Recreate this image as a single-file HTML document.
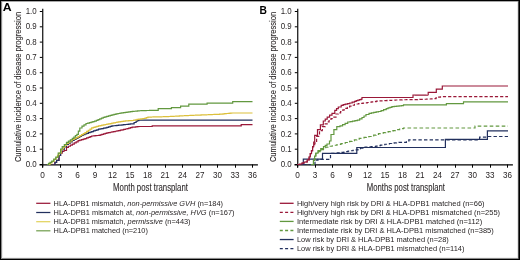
<!DOCTYPE html>
<html><head><meta charset="utf-8"><style>
html,body{margin:0;padding:0;background:#fff;width:520px;height:260px;overflow:hidden}
svg{display:block;font-family:"Liberation Sans", sans-serif;will-change:transform}
</style></head><body>
<svg width="520" height="260" viewBox="0 0 520 260">
<line x1="42.75" y1="8.8" x2="42.75" y2="167.6" stroke="#000" stroke-width="1.15"/>
<line x1="39.5" y1="164.8" x2="257.9" y2="164.8" stroke="#000" stroke-width="1.2"/>
<line x1="39.8" y1="164.5" x2="42.5" y2="164.5" stroke="#000" stroke-width="1"/>
<text x="36.7" y="167.1" font-size="8.3" text-anchor="end" textLength="11.0" lengthAdjust="spacingAndGlyphs" fill="#231f20">0.0</text>
<line x1="39.8" y1="149.2" x2="42.5" y2="149.2" stroke="#000" stroke-width="1"/>
<text x="36.7" y="151.8" font-size="8.3" text-anchor="end" textLength="11.0" lengthAdjust="spacingAndGlyphs" fill="#231f20">0.1</text>
<line x1="39.8" y1="133.9" x2="42.5" y2="133.9" stroke="#000" stroke-width="1"/>
<text x="36.7" y="136.5" font-size="8.3" text-anchor="end" textLength="11.0" lengthAdjust="spacingAndGlyphs" fill="#231f20">0.2</text>
<line x1="39.8" y1="118.6" x2="42.5" y2="118.6" stroke="#000" stroke-width="1"/>
<text x="36.7" y="121.2" font-size="8.3" text-anchor="end" textLength="11.0" lengthAdjust="spacingAndGlyphs" fill="#231f20">0.3</text>
<line x1="39.8" y1="103.3" x2="42.5" y2="103.3" stroke="#000" stroke-width="1"/>
<text x="36.7" y="105.9" font-size="8.3" text-anchor="end" textLength="11.0" lengthAdjust="spacingAndGlyphs" fill="#231f20">0.4</text>
<line x1="39.8" y1="88" x2="42.5" y2="88" stroke="#000" stroke-width="1"/>
<text x="36.7" y="90.6" font-size="8.3" text-anchor="end" textLength="11.0" lengthAdjust="spacingAndGlyphs" fill="#231f20">0.5</text>
<line x1="39.8" y1="72.7" x2="42.5" y2="72.7" stroke="#000" stroke-width="1"/>
<text x="36.7" y="75.3" font-size="8.3" text-anchor="end" textLength="11.0" lengthAdjust="spacingAndGlyphs" fill="#231f20">0.6</text>
<line x1="39.8" y1="57.4" x2="42.5" y2="57.4" stroke="#000" stroke-width="1"/>
<text x="36.7" y="60" font-size="8.3" text-anchor="end" textLength="11.0" lengthAdjust="spacingAndGlyphs" fill="#231f20">0.7</text>
<line x1="39.8" y1="42.1" x2="42.5" y2="42.1" stroke="#000" stroke-width="1"/>
<text x="36.7" y="44.7" font-size="8.3" text-anchor="end" textLength="11.0" lengthAdjust="spacingAndGlyphs" fill="#231f20">0.8</text>
<line x1="39.8" y1="26.8" x2="42.5" y2="26.8" stroke="#000" stroke-width="1"/>
<text x="36.7" y="29.4" font-size="8.3" text-anchor="end" textLength="11.0" lengthAdjust="spacingAndGlyphs" fill="#231f20">0.9</text>
<line x1="39.8" y1="11.5" x2="42.5" y2="11.5" stroke="#000" stroke-width="1"/>
<text x="36.7" y="14.1" font-size="8.3" text-anchor="end" textLength="11.0" lengthAdjust="spacingAndGlyphs" fill="#231f20">1.0</text>
<line x1="42.5" y1="164.5" x2="42.5" y2="167.7" stroke="#000" stroke-width="1"/>
<text x="42.5" y="177.7" font-size="8.8" text-anchor="middle" textLength="4.6" lengthAdjust="spacingAndGlyphs" fill="#231f20">0</text>
<line x1="60.5" y1="164.5" x2="60.5" y2="167.7" stroke="#000" stroke-width="1"/>
<text x="60" y="177.7" font-size="8.8" text-anchor="middle" textLength="4.6" lengthAdjust="spacingAndGlyphs" fill="#231f20">3</text>
<line x1="77.5" y1="164.5" x2="77.5" y2="167.7" stroke="#000" stroke-width="1"/>
<text x="77.5" y="177.7" font-size="8.8" text-anchor="middle" textLength="4.6" lengthAdjust="spacingAndGlyphs" fill="#231f20">6</text>
<line x1="95.5" y1="164.5" x2="95.5" y2="167.7" stroke="#000" stroke-width="1"/>
<text x="95" y="177.7" font-size="8.8" text-anchor="middle" textLength="4.6" lengthAdjust="spacingAndGlyphs" fill="#231f20">9</text>
<line x1="112.5" y1="164.5" x2="112.5" y2="167.7" stroke="#000" stroke-width="1"/>
<text x="112.5" y="177.7" font-size="8.8" text-anchor="middle" textLength="9.0" lengthAdjust="spacingAndGlyphs" fill="#231f20">12</text>
<line x1="130.5" y1="164.5" x2="130.5" y2="167.7" stroke="#000" stroke-width="1"/>
<text x="130" y="177.7" font-size="8.8" text-anchor="middle" textLength="9.0" lengthAdjust="spacingAndGlyphs" fill="#231f20">15</text>
<line x1="147.5" y1="164.5" x2="147.5" y2="167.7" stroke="#000" stroke-width="1"/>
<text x="147.5" y="177.7" font-size="8.8" text-anchor="middle" textLength="9.0" lengthAdjust="spacingAndGlyphs" fill="#231f20">18</text>
<line x1="165.5" y1="164.5" x2="165.5" y2="167.7" stroke="#000" stroke-width="1"/>
<text x="165" y="177.7" font-size="8.8" text-anchor="middle" textLength="9.0" lengthAdjust="spacingAndGlyphs" fill="#231f20">21</text>
<line x1="182.5" y1="164.5" x2="182.5" y2="167.7" stroke="#000" stroke-width="1"/>
<text x="182.5" y="177.7" font-size="8.8" text-anchor="middle" textLength="9.0" lengthAdjust="spacingAndGlyphs" fill="#231f20">24</text>
<line x1="200.5" y1="164.5" x2="200.5" y2="167.7" stroke="#000" stroke-width="1"/>
<text x="200" y="177.7" font-size="8.8" text-anchor="middle" textLength="9.0" lengthAdjust="spacingAndGlyphs" fill="#231f20">27</text>
<line x1="217.5" y1="164.5" x2="217.5" y2="167.7" stroke="#000" stroke-width="1"/>
<text x="217.5" y="177.7" font-size="8.8" text-anchor="middle" textLength="9.0" lengthAdjust="spacingAndGlyphs" fill="#231f20">30</text>
<line x1="235.5" y1="164.5" x2="235.5" y2="167.7" stroke="#000" stroke-width="1"/>
<text x="235" y="177.7" font-size="8.8" text-anchor="middle" textLength="9.0" lengthAdjust="spacingAndGlyphs" fill="#231f20">33</text>
<line x1="252.5" y1="164.5" x2="252.5" y2="167.7" stroke="#000" stroke-width="1"/>
<text x="252.5" y="177.7" font-size="8.8" text-anchor="middle" textLength="9.0" lengthAdjust="spacingAndGlyphs" fill="#231f20">36</text>
<text transform="translate(20.6,87.0) rotate(-90)" x="0" y="0" font-size="9.6" text-anchor="middle" textLength="150.2" lengthAdjust="spacingAndGlyphs" fill="#231f20" stroke="#231f20" stroke-width="0.1">Cumulative incidence of disease progression</text>
<text x="150.5" y="190.9" font-size="10.2" text-anchor="middle" textLength="74.8" lengthAdjust="spacingAndGlyphs" fill="#231f20" stroke="#231f20" stroke-width="0.08">Month post transplant</text>
<text x="2.8" y="10.9" font-size="10.8" font-weight="bold" textLength="8.9" lengthAdjust="spacingAndGlyphs" fill="#000">A</text>
<polyline points="53,164.5 54.8,164.5 54.8,162.45 56.6,162.45 56.6,160.4 59,160.4 59,155.5 60.6,155.5 60.6,153.1 62.2,153.1 62.2,151.5 64,151.5 64,150.5 66.5,150.5 66.5,147.3 68.43,147.3 68.43,146.23 70.37,146.23 70.37,145.17 72.3,145.17 72.3,144.1 74.23,144.1 74.23,142.97 76.17,142.97 76.17,141.83 78.1,141.83 78.1,140.7 79.82,140.7 79.82,140.17 81.55,140.17 81.55,139.65 83.28,139.65 83.28,139.12 85,139.12 85,138.6 86.67,138.6 86.67,137.95 88.35,137.95 88.35,137.3 90.03,137.3 90.03,136.65 91.7,136.65 91.7,136 93.4,136 93.4,135.82 95.1,135.82 95.1,135.65 96.8,135.65 96.8,135.48 98.5,135.48 98.5,135.3 100.17,135.3 100.17,134.8 101.85,134.8 101.85,134.3 103.53,134.3 103.53,133.8 105.2,133.8 105.2,133.3 106.88,133.3 106.88,132.95 108.55,132.95 108.55,132.6 110.23,132.6 110.23,132.25 111.9,132.25 111.9,131.9 113.58,131.9 113.58,131.57 115.25,131.57 115.25,131.25 116.92,131.25 116.92,130.93 118.6,130.93 118.6,130.6 120.3,130.6 120.3,130.2 122,130.2 122,129.8 123.7,129.8 123.7,129.4 125.4,129.4 125.4,129 127.08,129 127.08,128.55 128.75,128.55 128.75,128.1 130.43,128.1 130.43,127.65 132.1,127.65 132.1,127.2 133.78,127.2 133.78,127.03 135.45,127.03 135.45,126.85 137.12,126.85 137.12,126.67 138.8,126.67 138.8,126.5 140.6,126.5 140.6,126.5 142.4,126.5 142.4,126.5 144.2,126.5 144.2,126.5 146,126.5 146,126.5 147.8,126.5 147.8,126.5 149.6,126.5 149.6,126.5 152.2,126.5 152.2,125.8 154.02,125.8 154.02,125.8 155.83,125.8 155.83,125.8 157.65,125.8 157.65,125.8 159.47,125.8 159.47,125.8 161.28,125.8 161.28,125.8 163.1,125.8 163.1,125.8 164.91,125.8 164.91,125.8 166.73,125.8 166.73,125.8 168.55,125.8 168.55,125.8 170.36,125.8 170.36,125.8 172.18,125.8 172.18,125.8 174,125.8 174,125.8 175.81,125.8 175.81,125.8 177.63,125.8 177.63,125.8 179.44,125.8 179.44,125.8 181.26,125.8 181.26,125.8 183.08,125.8 183.08,125.8 184.89,125.8 184.89,125.8 186.71,125.8 186.71,125.8 188.53,125.8 188.53,125.8 190.34,125.8 190.34,125.8 192.16,125.8 192.16,125.8 193.98,125.8 193.98,125.8 195.79,125.8 195.79,125.8 197.61,125.8 197.61,125.8 199.42,125.8 199.42,125.8 201.24,125.8 201.24,125.8 203.06,125.8 203.06,125.8 204.87,125.8 204.87,125.8 206.69,125.8 206.69,125.8 208.51,125.8 208.51,125.8 210.32,125.8 210.32,125.8 212.14,125.8 212.14,125.8 213.96,125.8 213.96,125.8 215.77,125.8 215.77,125.8 217.59,125.8 217.59,125.8 219.4,125.8 219.4,125.8 221.22,125.8 221.22,125.8 223.04,125.8 223.04,125.8 224.85,125.8 224.85,125.8 226.67,125.8 226.67,125.8 228.49,125.8 228.49,125.8 230.3,125.8 230.3,125.8 232.12,125.8 232.12,125.8 233.93,125.8 233.93,125.8 235.75,125.8 235.75,125.8 237.57,125.8 237.57,125.8 239.38,125.8 239.38,125.8 241.2,125.8 241.2,125.8 241.2,125.8 241.2,124.6 243.08,124.6 243.08,124.6 244.97,124.6 244.97,124.6 246.85,124.6 246.85,124.6 248.73,124.6 248.73,124.6 250.62,124.6 250.62,124.6 252.5,124.6 252.5,124.6" fill="none" stroke="#9a1838" stroke-width="1.2" stroke-linejoin="miter"/>
<polyline points="53.5,164.5 55.05,164.5 55.05,162.45 56.6,162.45 56.6,160.4 59,160.4 59,155.5 60.6,155.5 60.6,152 62,152 62,149.5 64.25,149.5 64.25,147 66.5,147 66.5,144.5 68.43,144.5 68.43,143.17 70.37,143.17 70.37,141.83 72.3,141.83 72.3,140.5 74.2,140.5 74.2,139.5 76.1,139.5 76.1,138.5 78,138.5 78,137.5 79.75,137.5 79.75,136.5 81.5,136.5 81.5,135.5 83.25,135.5 83.25,134.7 85,134.7 85,133.9 86.69,133.9 86.69,133.31 88.38,133.31 88.38,132.72 90.06,132.72 90.06,132.14 91.75,132.14 91.75,131.55 93.44,131.55 93.44,130.96 95.12,130.96 95.12,130.38 96.81,130.38 96.81,129.79 98.5,129.79 98.5,129.2 100.17,129.2 100.17,128.88 101.85,128.88 101.85,128.55 103.53,128.55 103.53,128.22 105.2,128.22 105.2,127.9 106.88,127.9 106.88,127.4 108.55,127.4 108.55,126.9 110.23,126.9 110.23,126.4 111.9,126.4 111.9,125.9 113.58,125.9 113.58,125.73 115.25,125.73 115.25,125.55 116.92,125.55 116.92,125.38 118.6,125.38 118.6,125.2 120.3,125.2 120.3,125.03 122,125.03 122,124.85 123.7,124.85 123.7,124.67 125.4,124.67 125.4,124.5 127.08,124.5 127.08,124.33 128.75,124.33 128.75,124.15 130.43,124.15 130.43,123.97 132.1,123.97 132.1,123.8 134.1,123.8 134.1,122.5 136.1,122.5 136.1,121.2 137.45,121.2 137.45,120.65 138.8,120.65 138.8,120.1 140.6,120.1 140.6,120.1 142.41,120.1 142.41,120.1 144.21,120.1 144.21,120.1 146.02,120.1 146.02,120.1 147.82,120.1 147.82,120.1 149.63,120.1 149.63,120.1 151.43,120.1 151.43,120.1 153.24,120.1 153.24,120.1 155.04,120.1 155.04,120.1 156.85,120.1 156.85,120.1 158.65,120.1 158.65,120.1 160.46,120.1 160.46,120.1 162.26,120.1 162.26,120.1 164.07,120.1 164.07,120.1 165.87,120.1 165.87,120.1 167.68,120.1 167.68,120.1 169.48,120.1 169.48,120.1 171.29,120.1 171.29,120.1 173.09,120.1 173.09,120.1 174.9,120.1 174.9,120.1 176.7,120.1 176.7,120.1 178.5,120.1 178.5,120.1 180.31,120.1 180.31,120.1 182.11,120.1 182.11,120.1 183.92,120.1 183.92,120.1 185.72,120.1 185.72,120.1 187.53,120.1 187.53,120.1 189.33,120.1 189.33,120.1 191.14,120.1 191.14,120.1 192.94,120.1 192.94,120.1 194.75,120.1 194.75,120.1 196.55,120.1 196.55,120.1 198.36,120.1 198.36,120.1 200.16,120.1 200.16,120.1 201.97,120.1 201.97,120.1 203.77,120.1 203.77,120.1 205.58,120.1 205.58,120.1 207.38,120.1 207.38,120.1 209.19,120.1 209.19,120.1 210.99,120.1 210.99,120.1 212.8,120.1 212.8,120.1 214.6,120.1 214.6,120.1 216.4,120.1 216.4,120.1 218.21,120.1 218.21,120.1 220.01,120.1 220.01,120.1 221.82,120.1 221.82,120.1 223.62,120.1 223.62,120.1 225.43,120.1 225.43,120.1 227.23,120.1 227.23,120.1 229.04,120.1 229.04,120.1 230.84,120.1 230.84,120.1 232.65,120.1 232.65,120.1 234.45,120.1 234.45,120.1 236.26,120.1 236.26,120.1 238.06,120.1 238.06,120.1 239.87,120.1 239.87,120.1 241.67,120.1 241.67,120.1 243.48,120.1 243.48,120.1 245.28,120.1 245.28,120.1 247.09,120.1 247.09,120.1 248.89,120.1 248.89,120.1 250.7,120.1 250.7,120.1 252.5,120.1 252.5,120.1" fill="none" stroke="#22305e" stroke-width="1.2" stroke-linejoin="miter"/>
<polyline points="48,164.5 50,164.5 50,163 52,163 52,161.5 54,161.5 54,159.5 56,159.5 56,157.5 57.5,157.5 57.5,155.25 59,155.25 59,153 61.2,153 61.2,149.5 62.97,149.5 62.97,147.5 64.73,147.5 64.73,145.5 66.5,145.5 66.5,143.5 68.43,143.5 68.43,142.17 70.37,142.17 70.37,140.83 72.3,140.83 72.3,139.5 74.23,139.5 74.23,138.57 76.17,138.57 76.17,137.63 78.1,137.63 78.1,136.7 79.82,136.7 79.82,135.67 81.55,135.67 81.55,134.65 83.28,134.65 83.28,133.62 85,133.62 85,132.6 86.67,132.6 86.67,131.43 88.35,131.43 88.35,130.25 90.03,130.25 90.03,129.07 91.7,129.07 91.7,127.9 93.4,127.9 93.4,127.4 95.1,127.4 95.1,126.9 96.8,126.9 96.8,126.4 98.5,126.4 98.5,125.9 100.17,125.9 100.17,125.55 101.85,125.55 101.85,125.2 103.53,125.2 103.53,124.85 105.2,124.85 105.2,124.5 106.88,124.5 106.88,124.17 108.55,124.17 108.55,123.85 110.23,123.85 110.23,123.53 111.9,123.53 111.9,123.2 113.58,123.2 113.58,122.85 115.25,122.85 115.25,122.5 116.92,122.5 116.92,122.15 118.6,122.15 118.6,121.8 120.3,121.8 120.3,121.58 122,121.58 122,121.35 123.7,121.35 123.7,121.12 125.4,121.12 125.4,120.9 127.08,120.9 127.08,120.8 128.75,120.8 128.75,120.7 130.43,120.7 130.43,120.6 132.1,120.6 132.1,120.5 133.78,120.5 133.78,120.15 135.45,120.15 135.45,119.8 137.12,119.8 137.12,119.45 138.8,119.45 138.8,119.1 140.87,119.1 140.87,118.8 142.93,118.8 142.93,118.5 145,118.5 145,118.2 146.45,118.2 146.45,117.65 147.9,117.65 147.9,117.1 149.63,117.1 149.63,117.05 151.35,117.05 151.35,117.01 153.08,117.01 153.08,116.96 154.81,116.96 154.81,116.92 156.54,116.92 156.54,116.87 158.26,116.87 158.26,116.83 159.99,116.83 159.99,116.78 161.72,116.78 161.72,116.74 163.45,116.74 163.45,116.69 165.17,116.69 165.17,116.65 166.9,116.65 166.9,116.6 168.68,116.6 168.68,116.51 170.45,116.51 170.45,116.42 172.23,116.42 172.23,116.32 174.01,116.32 174.01,116.23 175.78,116.23 175.78,116.14 177.56,116.14 177.56,116.05 179.34,116.05 179.34,115.95 181.12,115.95 181.12,115.86 182.89,115.86 182.89,115.77 184.67,115.77 184.67,115.68 186.45,115.68 186.45,115.58 188.22,115.58 188.22,115.49 190,115.49 190,115.4 191.85,115.4 191.85,115.33 193.7,115.33 193.7,115.25 195.55,115.25 195.55,115.18 197.4,115.18 197.4,115.1 199.25,115.1 199.25,115.03 201.1,115.03 201.1,114.95 202.95,114.95 202.95,114.88 204.8,114.88 204.8,114.8 206.65,114.8 206.65,114.73 208.5,114.73 208.5,114.65 210.35,114.65 210.35,114.58 212.2,114.58 212.2,114.5 214.05,114.5 214.05,114.42 215.9,114.42 215.9,114.35 217.75,114.35 217.75,114.28 219.6,114.28 219.6,114.2 221.33,114.2 221.33,114.03 223.06,114.03 223.06,113.86 224.79,113.86 224.79,113.69 226.51,113.69 226.51,113.51 228.24,113.51 228.24,113.34 229.97,113.34 229.97,113.17 231.7,113.17 231.7,113 233.43,113 233.43,113 235.17,113 235.17,113 236.9,113 236.9,113 238.63,113 238.63,113 240.37,113 240.37,113 242.1,113 242.1,113 243.83,113 243.83,113 245.57,113 245.57,113 247.3,113 247.3,113 249.03,113 249.03,113 250.77,113 250.77,113 252.5,113 252.5,113" fill="none" stroke="#dcc03c" stroke-width="1.2" stroke-linejoin="miter"/>
<polyline points="46.9,164.5 48.5,164.5 48.5,163.4 50.1,163.4 50.1,162.3 51.7,162.3 51.7,161.2 53.75,161.2 53.75,159.15 55.8,159.15 55.8,157.1 58.2,157.1 58.2,153.1 60.6,153.1 60.6,149 62.2,149 62.2,146.6 64.35,146.6 64.35,144.5 66.5,144.5 66.5,142.4 68.43,142.4 68.43,141.07 70.37,141.07 70.37,139.73 72.3,139.73 72.3,138.4 73.83,138.4 73.83,137.03 75.37,137.03 75.37,135.67 76.9,135.67 76.9,134.3 78.35,134.3 78.35,131.15 79.8,131.15 79.8,128 82,128 82,126.2 84,126.2 84,124.85 86,124.85 86,123.5 87.72,123.5 87.72,123.04 89.44,123.04 89.44,122.58 91.16,122.58 91.16,122.12 92.88,122.12 92.88,121.66 94.6,121.66 94.6,121.2 96.32,121.2 96.32,120.42 98.04,120.42 98.04,119.64 99.76,119.64 99.76,118.86 101.48,118.86 101.48,118.08 103.2,118.08 103.2,117.3 104.96,117.3 104.96,116.8 106.72,116.8 106.72,116.3 108.48,116.3 108.48,115.8 110.24,115.8 110.24,115.3 112,115.3 112,114.8 114,114.8 114,114.38 116,114.38 116,113.95 118,113.95 118,113.52 120,113.52 120,113.1 121.76,113.1 121.76,112.86 123.51,112.86 123.51,112.61 125.27,112.61 125.27,112.37 127.03,112.37 127.03,112.13 128.79,112.13 128.79,111.89 130.54,111.89 130.54,111.64 132.3,111.64 132.3,111.4 134.04,111.4 134.04,111.24 135.78,111.24 135.78,111.08 137.52,111.08 137.52,110.92 139.26,110.92 139.26,110.76 141,110.76 141,110.6 142.72,110.6 142.72,110.57 144.44,110.57 144.44,110.54 146.16,110.54 146.16,110.51 147.88,110.51 147.88,110.48 149.6,110.48 149.6,110.45 151.32,110.45 151.32,110.42 153.04,110.42 153.04,110.39 154.76,110.39 154.76,110.36 156.48,110.36 156.48,110.33 158.2,110.33 158.2,110.3 158.2,110.3 158.2,108.7 160.09,108.7 160.09,108.7 161.97,108.7 161.97,108.7 163.86,108.7 163.86,108.7 165.74,108.7 165.74,108.7 167.63,108.7 167.63,108.7 169.51,108.7 169.51,108.7 171.4,108.7 171.4,108.7 171.4,108.7 171.4,107.6 173.24,107.6 173.24,107.6 175.08,107.6 175.08,107.6 176.92,107.6 176.92,107.6 178.76,107.6 178.76,107.6 180.6,107.6 180.6,107.6 180.6,107.6 180.6,106.2 182.24,106.2 182.24,106.2 183.88,106.2 183.88,106.2 185.52,106.2 185.52,106.2 187.16,106.2 187.16,106.2 188.8,106.2 188.8,106.2 188.8,106.2 188.8,104.2 190.63,104.2 190.63,104.2 192.46,104.2 192.46,104.2 194.29,104.2 194.29,104.2 196.12,104.2 196.12,104.2 197.95,104.2 197.95,104.2 199.78,104.2 199.78,104.2 201.61,104.2 201.61,104.2 203.44,104.2 203.44,104.2 205.27,104.2 205.27,104.2 207.1,104.2 207.1,104.2 207.1,104.2 207.1,103.1 208.93,103.1 208.93,103.1 210.76,103.1 210.76,103.1 212.59,103.1 212.59,103.1 214.41,103.1 214.41,103.1 216.24,103.1 216.24,103.1 218.07,103.1 218.07,103.1 219.9,103.1 219.9,103.1 221.73,103.1 221.73,103.1 223.56,103.1 223.56,103.1 225.39,103.1 225.39,103.1 227.21,103.1 227.21,103.1 229.04,103.1 229.04,103.1 230.87,103.1 230.87,103.1 232.7,103.1 232.7,103.1 232.7,103.1 232.7,101.6 234.5,101.6 234.5,101.6 236.3,101.6 236.3,101.6 238.1,101.6 238.1,101.6 239.9,101.6 239.9,101.6 241.7,101.6 241.7,101.6 243.5,101.6 243.5,101.6 245.3,101.6 245.3,101.6 247.1,101.6 247.1,101.6 248.9,101.6 248.9,101.6 250.7,101.6 250.7,101.6 252.5,101.6 252.5,101.6" fill="none" stroke="#62983f" stroke-width="1.2" stroke-linejoin="miter"/>
<line x1="36.2" y1="203.3" x2="50.4" y2="203.3" stroke="#9a1838" stroke-width="1.25"/>
<text x="53.6" y="205.6" font-size="7.8" textLength="169.4" lengthAdjust="spacingAndGlyphs" fill="#231f20">HLA-DPB1 mismatch, <tspan font-style="italic">non-permissive GVH</tspan> (n=184)</text>
<line x1="36.2" y1="212.5" x2="50.4" y2="212.5" stroke="#22305e" stroke-width="1.25"/>
<text x="53.6" y="214.8" font-size="7.8" textLength="180.9" lengthAdjust="spacingAndGlyphs" fill="#231f20">HLA-DPB1 mismatch at, <tspan font-style="italic">non-permissive, HVG</tspan> (n=167)</text>
<line x1="36.2" y1="221.7" x2="50.4" y2="221.7" stroke="#e2d35e" stroke-width="1.25"/>
<text x="53.6" y="224" font-size="7.8" textLength="137.0" lengthAdjust="spacingAndGlyphs" fill="#231f20">HLA-DPB1 mismatch, <tspan font-style="italic">permissive</tspan> (n=443)</text>
<line x1="36.2" y1="230.8" x2="50.4" y2="230.8" stroke="#74a052" stroke-width="1.25"/>
<text x="53.6" y="233.1" font-size="7.8" textLength="94.3" lengthAdjust="spacingAndGlyphs" fill="#231f20">HLA-DPB1 matched (n=210)</text>
<line x1="297.75" y1="8.8" x2="297.75" y2="167.6" stroke="#000" stroke-width="1.15"/>
<line x1="294.5" y1="164.8" x2="512.9" y2="164.8" stroke="#000" stroke-width="1.2"/>
<line x1="294.8" y1="164.5" x2="297.5" y2="164.5" stroke="#000" stroke-width="1"/>
<text x="291.7" y="167.1" font-size="8.3" text-anchor="end" textLength="11.0" lengthAdjust="spacingAndGlyphs" fill="#231f20">0.0</text>
<line x1="294.8" y1="149.2" x2="297.5" y2="149.2" stroke="#000" stroke-width="1"/>
<text x="291.7" y="151.8" font-size="8.3" text-anchor="end" textLength="11.0" lengthAdjust="spacingAndGlyphs" fill="#231f20">0.1</text>
<line x1="294.8" y1="133.9" x2="297.5" y2="133.9" stroke="#000" stroke-width="1"/>
<text x="291.7" y="136.5" font-size="8.3" text-anchor="end" textLength="11.0" lengthAdjust="spacingAndGlyphs" fill="#231f20">0.2</text>
<line x1="294.8" y1="118.6" x2="297.5" y2="118.6" stroke="#000" stroke-width="1"/>
<text x="291.7" y="121.2" font-size="8.3" text-anchor="end" textLength="11.0" lengthAdjust="spacingAndGlyphs" fill="#231f20">0.3</text>
<line x1="294.8" y1="103.3" x2="297.5" y2="103.3" stroke="#000" stroke-width="1"/>
<text x="291.7" y="105.9" font-size="8.3" text-anchor="end" textLength="11.0" lengthAdjust="spacingAndGlyphs" fill="#231f20">0.4</text>
<line x1="294.8" y1="88" x2="297.5" y2="88" stroke="#000" stroke-width="1"/>
<text x="291.7" y="90.6" font-size="8.3" text-anchor="end" textLength="11.0" lengthAdjust="spacingAndGlyphs" fill="#231f20">0.5</text>
<line x1="294.8" y1="72.7" x2="297.5" y2="72.7" stroke="#000" stroke-width="1"/>
<text x="291.7" y="75.3" font-size="8.3" text-anchor="end" textLength="11.0" lengthAdjust="spacingAndGlyphs" fill="#231f20">0.6</text>
<line x1="294.8" y1="57.4" x2="297.5" y2="57.4" stroke="#000" stroke-width="1"/>
<text x="291.7" y="60" font-size="8.3" text-anchor="end" textLength="11.0" lengthAdjust="spacingAndGlyphs" fill="#231f20">0.7</text>
<line x1="294.8" y1="42.1" x2="297.5" y2="42.1" stroke="#000" stroke-width="1"/>
<text x="291.7" y="44.7" font-size="8.3" text-anchor="end" textLength="11.0" lengthAdjust="spacingAndGlyphs" fill="#231f20">0.8</text>
<line x1="294.8" y1="26.8" x2="297.5" y2="26.8" stroke="#000" stroke-width="1"/>
<text x="291.7" y="29.4" font-size="8.3" text-anchor="end" textLength="11.0" lengthAdjust="spacingAndGlyphs" fill="#231f20">0.9</text>
<line x1="294.8" y1="11.5" x2="297.5" y2="11.5" stroke="#000" stroke-width="1"/>
<text x="291.7" y="14.1" font-size="8.3" text-anchor="end" textLength="11.0" lengthAdjust="spacingAndGlyphs" fill="#231f20">1.0</text>
<line x1="297.5" y1="164.5" x2="297.5" y2="167.7" stroke="#000" stroke-width="1"/>
<text x="297.5" y="177.7" font-size="8.8" text-anchor="middle" textLength="4.6" lengthAdjust="spacingAndGlyphs" fill="#231f20">0</text>
<line x1="315.5" y1="164.5" x2="315.5" y2="167.7" stroke="#000" stroke-width="1"/>
<text x="315" y="177.7" font-size="8.8" text-anchor="middle" textLength="4.6" lengthAdjust="spacingAndGlyphs" fill="#231f20">3</text>
<line x1="332.5" y1="164.5" x2="332.5" y2="167.7" stroke="#000" stroke-width="1"/>
<text x="332.5" y="177.7" font-size="8.8" text-anchor="middle" textLength="4.6" lengthAdjust="spacingAndGlyphs" fill="#231f20">6</text>
<line x1="350.5" y1="164.5" x2="350.5" y2="167.7" stroke="#000" stroke-width="1"/>
<text x="350" y="177.7" font-size="8.8" text-anchor="middle" textLength="4.6" lengthAdjust="spacingAndGlyphs" fill="#231f20">9</text>
<line x1="367.5" y1="164.5" x2="367.5" y2="167.7" stroke="#000" stroke-width="1"/>
<text x="367.5" y="177.7" font-size="8.8" text-anchor="middle" textLength="9.0" lengthAdjust="spacingAndGlyphs" fill="#231f20">12</text>
<line x1="385.5" y1="164.5" x2="385.5" y2="167.7" stroke="#000" stroke-width="1"/>
<text x="385" y="177.7" font-size="8.8" text-anchor="middle" textLength="9.0" lengthAdjust="spacingAndGlyphs" fill="#231f20">15</text>
<line x1="402.5" y1="164.5" x2="402.5" y2="167.7" stroke="#000" stroke-width="1"/>
<text x="402.5" y="177.7" font-size="8.8" text-anchor="middle" textLength="9.0" lengthAdjust="spacingAndGlyphs" fill="#231f20">18</text>
<line x1="420.5" y1="164.5" x2="420.5" y2="167.7" stroke="#000" stroke-width="1"/>
<text x="420" y="177.7" font-size="8.8" text-anchor="middle" textLength="9.0" lengthAdjust="spacingAndGlyphs" fill="#231f20">21</text>
<line x1="437.5" y1="164.5" x2="437.5" y2="167.7" stroke="#000" stroke-width="1"/>
<text x="437.5" y="177.7" font-size="8.8" text-anchor="middle" textLength="9.0" lengthAdjust="spacingAndGlyphs" fill="#231f20">24</text>
<line x1="455.5" y1="164.5" x2="455.5" y2="167.7" stroke="#000" stroke-width="1"/>
<text x="455" y="177.7" font-size="8.8" text-anchor="middle" textLength="9.0" lengthAdjust="spacingAndGlyphs" fill="#231f20">27</text>
<line x1="472.5" y1="164.5" x2="472.5" y2="167.7" stroke="#000" stroke-width="1"/>
<text x="472.5" y="177.7" font-size="8.8" text-anchor="middle" textLength="9.0" lengthAdjust="spacingAndGlyphs" fill="#231f20">30</text>
<line x1="490.5" y1="164.5" x2="490.5" y2="167.7" stroke="#000" stroke-width="1"/>
<text x="490" y="177.7" font-size="8.8" text-anchor="middle" textLength="9.0" lengthAdjust="spacingAndGlyphs" fill="#231f20">33</text>
<line x1="507.5" y1="164.5" x2="507.5" y2="167.7" stroke="#000" stroke-width="1"/>
<text x="507.5" y="177.7" font-size="8.8" text-anchor="middle" textLength="9.0" lengthAdjust="spacingAndGlyphs" fill="#231f20">36</text>
<text transform="translate(275.6,87.0) rotate(-90)" x="0" y="0" font-size="9.6" text-anchor="middle" textLength="150.2" lengthAdjust="spacingAndGlyphs" fill="#231f20" stroke="#231f20" stroke-width="0.1">Cumulative incidence of disease progression</text>
<text x="405.9" y="190.9" font-size="10.2" text-anchor="middle" textLength="78.2" lengthAdjust="spacingAndGlyphs" fill="#231f20" stroke="#231f20" stroke-width="0.08">Months post transplant</text>
<text x="259.4" y="13.8" font-size="10.8" font-weight="bold" textLength="7.4" lengthAdjust="spacingAndGlyphs" fill="#000">B</text>
<polyline points="297.5,164.5 303.3,164.5 303.3,164.5 303.3,164.5 303.3,159.2 322.5,159.2 322.5,159.2 322.5,159.2 322.5,153.3 356.8,153.3 356.8,153.3 356.8,153.3 356.8,147.5 445.4,147.5 445.4,147.5 445.4,147.5 445.4,139.3 487.4,139.3 487.4,139.3 487.4,139.3 487.4,130.9 508,130.9 508,130.9" fill="none" stroke="#22305e" stroke-width="1.2" stroke-linejoin="miter"/>
<polyline points="297.5,164.5 299.69,164.5 299.69,164.5 301.88,164.5 301.88,164.5 304.06,164.5 304.06,164.5 306.25,164.5 306.25,164.5 308.44,164.5 308.44,164.5 310.62,164.5 310.62,164.5 312.81,164.5 312.81,164.5 315,164.5 315,164.5 315,164.5 315,160.2 318,160.2 318,159.4 320.08,159.4 320.08,159.4 322.17,159.4 322.17,159.4 324.25,159.4 324.25,159.4 326.33,159.4 326.33,159.4 328.42,159.4 328.42,159.4 330.5,159.4 330.5,159.4 330.5,159.4 330.5,153.4 332.88,153.4 332.88,153.25 335.25,153.25 335.25,153.1 337.62,153.1 337.62,152.95 340,152.95 340,152.8 342,152.8 342,152.4 344,152.4 344,152 346,152 346,151.6 348,151.6 348,151.2 350.5,151.2 350.5,150.73 353,150.73 353,150.27 355.5,150.27 355.5,149.8 357.97,149.8 357.97,149 360.43,149 360.43,148.2 362.9,148.2 362.9,147.4 365.04,147.4 365.04,147.22 367.18,147.22 367.18,147.04 369.32,147.04 369.32,146.86 371.46,146.86 371.46,146.68 373.6,146.68 373.6,146.5 375.87,146.5 375.87,146.07 378.13,146.07 378.13,145.63 380.4,145.63 380.4,145.2 382.63,145.2 382.63,144.73 384.87,144.73 384.87,144.27 387.1,144.27 387.1,143.8 389.45,143.8 389.45,143.48 391.8,143.48 391.8,143.15 394.15,143.15 394.15,142.82 396.5,142.82 396.5,142.5 399,142.5 399,142.43 401.5,142.43 401.5,142.37 404,142.37 404,142.3 406.4,142.3 406.4,141.05 408.8,141.05 408.8,139.8 411.01,139.8 411.01,139.8 413.23,139.8 413.23,139.8 415.44,139.8 415.44,139.8 417.65,139.8 417.65,139.8 419.86,139.8 419.86,139.8 422.07,139.8 422.07,139.8 424.29,139.8 424.29,139.8 426.5,139.8 426.5,139.8 428.71,139.8 428.71,139.8 430.93,139.8 430.93,139.8 433.14,139.8 433.14,139.8 435.35,139.8 435.35,139.8 437.56,139.8 437.56,139.8 439.78,139.8 439.78,139.8 441.99,139.8 441.99,139.8 444.2,139.8 444.2,139.8 446.41,139.8 446.41,139.8 448.62,139.8 448.62,139.8 450.84,139.8 450.84,139.8 453.05,139.8 453.05,139.8 455.26,139.8 455.26,139.8 457.48,139.8 457.48,139.8 459.69,139.8 459.69,139.8 461.9,139.8 461.9,139.8 464.11,139.8 464.11,139.8 466.33,139.8 466.33,139.8 468.54,139.8 468.54,139.8 470.75,139.8 470.75,139.8 472.96,139.8 472.96,139.8 475.18,139.8 475.18,139.8 477.39,139.8 477.39,139.8 479.6,139.8 479.6,139.8 479.6,139.8 479.6,137.1 481.83,137.1 481.83,137.1 484.07,137.1 484.07,137.1 486.3,137.1 486.3,137.1 486.3,137.1 486.3,136.5 488.47,136.5 488.47,136.5 490.64,136.5 490.64,136.5 492.81,136.5 492.81,136.5 494.98,136.5 494.98,136.5 497.15,136.5 497.15,136.5 499.32,136.5 499.32,136.5 501.49,136.5 501.49,136.5 503.66,136.5 503.66,136.5 505.83,136.5 505.83,136.5 508,136.5 508,136.5" fill="none" stroke="#22305e" stroke-width="1.2" stroke-dasharray="3.4,2.2" stroke-linejoin="miter"/>
<polyline points="310.9,164.5 313.4,164.5 313.4,160.5 314.6,160.5 314.6,156.2 315.8,156.2 315.8,153.1 318,153.1 318,150.6 320.75,150.6 320.75,148.65 323.5,148.65 323.5,146.7 325.25,146.7 325.25,145.35 327,145.35 327,144 329.5,144 329.5,141 331,141 331,134.5 333.9,134.5 333.9,129.6 336.8,129.6 336.8,126.7 340,126.7 340,125.9 342.57,125.9 342.57,124.6 345.13,124.6 345.13,123.3 347.7,123.3 347.7,122 350.1,122 350.1,121.53 352.5,121.53 352.5,121.05 354.9,121.05 354.9,120.57 357.3,120.57 357.3,120.1 359.65,120.1 359.65,118.8 362,118.8 362,117.5 364,117.5 364,116 366,116 366,114.5 369,114.5 369,113.4 371.38,113.4 371.38,112.93 373.75,112.93 373.75,112.45 376.12,112.45 376.12,111.97 378.5,111.97 378.5,111.5 381.07,111.5 381.07,110.53 383.63,110.53 383.63,109.57 386.2,109.57 386.2,108.6 388.1,108.6 388.1,107.97 390,107.97 390,107.33 391.9,107.33 391.9,106.7 394.3,106.7 394.3,106.45 396.7,106.45 396.7,106.2 399.1,106.2 399.1,105.95 401.5,105.95 401.5,105.7 403.5,105.7 403.5,104.9 405.76,104.9 405.76,104.9 408.02,104.9 408.02,104.9 410.27,104.9 410.27,104.9 412.53,104.9 412.53,104.9 414.79,104.9 414.79,104.9 417.05,104.9 417.05,104.9 419.31,104.9 419.31,104.9 421.56,104.9 421.56,104.9 423.82,104.9 423.82,104.9 426.08,104.9 426.08,104.9 428.34,104.9 428.34,104.9 430.59,104.9 430.59,104.9 432.85,104.9 432.85,104.9 435.11,104.9 435.11,104.9 437.37,104.9 437.37,104.9 439.63,104.9 439.63,104.9 441.88,104.9 441.88,104.9 444.14,104.9 444.14,104.9 446.4,104.9 446.4,104.9 446.4,104.9 446.4,103.7 448.54,103.7 448.54,103.7 450.67,103.7 450.67,103.7 452.81,103.7 452.81,103.7 454.95,103.7 454.95,103.7 457.09,103.7 457.09,103.7 459.23,103.7 459.23,103.7 461.36,103.7 461.36,103.7 463.5,103.7 463.5,103.7 463.5,103.7 463.5,101.9 465.73,101.9 465.73,101.9 467.95,101.9 467.95,101.9 470.18,101.9 470.18,101.9 472.4,101.9 472.4,101.9 474.62,101.9 474.62,101.9 476.85,101.9 476.85,101.9 479.07,101.9 479.07,101.9 481.3,101.9 481.3,101.9 483.52,101.9 483.52,101.9 485.75,101.9 485.75,101.9 487.98,101.9 487.98,101.9 490.2,101.9 490.2,101.9 492.43,101.9 492.43,101.9 494.65,101.9 494.65,101.9 496.88,101.9 496.88,101.9 499.1,101.9 499.1,101.9 501.32,101.9 501.32,101.9 503.55,101.9 503.55,101.9 505.77,101.9 505.77,101.9 508,101.9 508,101.9" fill="none" stroke="#62983f" stroke-width="1.2" stroke-linejoin="miter"/>
<polyline points="312,164.5 313.9,164.5 313.9,159 315.8,159 315.8,153.5 318.37,153.5 318.37,151.57 320.93,151.57 320.93,149.63 323.5,149.63 323.5,147.7 325.69,147.7 325.69,147.21 327.87,147.21 327.87,146.73 330.06,146.73 330.06,146.24 332.24,146.24 332.24,145.76 334.43,145.76 334.43,145.27 336.61,145.27 336.61,144.79 338.8,144.79 338.8,144.3 340.96,144.3 340.96,143.7 343.12,143.7 343.12,143.1 345.28,143.1 345.28,142.5 347.44,142.5 347.44,141.9 349.6,141.9 349.6,141.3 352,141.3 352,140.58 354.4,140.58 354.4,139.85 356.8,139.85 356.8,139.12 359.2,139.12 359.2,138.4 361.6,138.4 361.6,137.93 364,137.93 364,137.45 366.4,137.45 366.4,136.97 368.8,136.97 368.8,136.5 371.23,136.5 371.23,135.78 373.65,135.78 373.65,135.05 376.07,135.05 376.07,134.32 378.5,134.32 378.5,133.6 380.9,133.6 380.9,133.12 383.3,133.12 383.3,132.65 385.7,132.65 385.7,132.17 388.1,132.17 388.1,131.7 390.5,131.7 390.5,131.2 392.9,131.2 392.9,130.7 395.3,130.7 395.3,130.2 397.7,130.2 397.7,129.7 399.63,129.7 399.63,129.13 401.57,129.13 401.57,128.57 403.5,128.57 403.5,128 405.73,128 405.73,128 407.97,128 407.97,128 410.2,128 410.2,128 412.44,128 412.44,128 414.67,128 414.67,128 416.91,128 416.91,128 419.14,128 419.14,128 421.38,128 421.38,128 423.61,128 423.61,128 425.84,128 425.84,128 428.08,128 428.08,128 430.31,128 430.31,128 432.55,128 432.55,128 434.78,128 434.78,128 437.02,128 437.02,128 439.25,128 439.25,128 441.48,128 441.48,128 443.72,128 443.72,128 445.95,128 445.95,128 448.19,128 448.19,128 450.42,128 450.42,128 452.66,128 452.66,128 454.89,128 454.89,128 457.12,128 457.12,128 459.36,128 459.36,128 461.59,128 461.59,128 463.83,128 463.83,128 466.06,128 466.06,128 468.3,128 468.3,128 470.53,128 470.53,128 472.77,128 472.77,128 475,128 475,128 475,128 475,126.2 477.2,126.2 477.2,126.2 479.4,126.2 479.4,126.2 481.6,126.2 481.6,126.2 483.8,126.2 483.8,126.2 486,126.2 486,126.2 488.2,126.2 488.2,126.2 490.4,126.2 490.4,126.2 492.6,126.2 492.6,126.2 494.8,126.2 494.8,126.2 497,126.2 497,126.2 499.2,126.2 499.2,126.2 501.4,126.2 501.4,126.2 503.6,126.2 503.6,126.2 505.8,126.2 505.8,126.2 508,126.2 508,126.2" fill="none" stroke="#62983f" stroke-width="1.2" stroke-dasharray="3.6,2.4" stroke-linejoin="miter"/>
<polyline points="297.5,164.5 300,164.5 300,164 302.1,164 302.1,163 304.2,163 304.2,162 307.2,162 307.2,159.8 309.1,159.8 309.1,156.8 310.3,156.8 310.3,153.7 311.5,153.7 311.5,150.6 312.6,150.6 312.6,146.6 314.7,146.6 314.7,143.1 316.6,143.1 316.6,136.3 319.5,136.3 319.5,130.6 322.3,130.6 322.3,126.7 325.2,126.7 325.2,123.8 327.15,123.8 327.15,121.9 329.1,121.9 329.1,120 331,120 331,118.55 332.9,118.55 332.9,117.1 336,117.1 336,114 338.3,114 338.3,112.8 340.6,112.8 340.6,111.6 342.9,111.6 342.9,109.95 345.2,109.95 345.2,108.3 347.4,108.3 347.4,107.25 349.6,107.25 349.6,106.2 352,106.2 352,105.25 354.4,105.25 354.4,104.3 356.52,104.3 356.52,104 358.64,104 358.64,103.7 360.76,103.7 360.76,103.4 362.88,103.4 362.88,103.1 365,103.1 365,102.8 367.25,102.8 367.25,102.48 369.5,102.48 369.5,102.17 371.75,102.17 371.75,101.85 374,101.85 374,101.53 376.25,101.53 376.25,101.22 378.5,101.22 378.5,100.9 380.63,100.9 380.63,100.79 382.77,100.79 382.77,100.68 384.9,100.68 384.9,100.57 387.03,100.57 387.03,100.46 389.17,100.46 389.17,100.34 391.3,100.34 391.3,100.23 393.43,100.23 393.43,100.12 395.57,100.12 395.57,100.01 397.7,100.01 397.7,99.9 399.91,99.9 399.91,99.85 402.12,99.85 402.12,99.81 404.33,99.81 404.33,99.76 406.54,99.76 406.54,99.72 408.75,99.72 408.75,99.67 410.95,99.67 410.95,99.63 413.16,99.63 413.16,99.58 415.37,99.58 415.37,99.54 417.58,99.54 417.58,99.49 419.79,99.49 419.79,99.45 422,99.45 422,99.4 424.24,99.4 424.24,99.26 426.48,99.26 426.48,99.12 428.72,99.12 428.72,98.98 430.96,98.98 430.96,98.84 433.2,98.84 433.2,98.7 435.95,98.7 435.95,97.9 438.7,97.9 438.7,97.1 440.35,97.1 440.35,96.9 442,96.9 442,96.7 444.2,96.7 444.2,96.7 446.4,96.7 446.4,96.7 448.6,96.7 448.6,96.7 450.8,96.7 450.8,96.7 453,96.7 453,96.7 455.2,96.7 455.2,96.7 457.4,96.7 457.4,96.7 459.6,96.7 459.6,96.7 461.8,96.7 461.8,96.7 464,96.7 464,96.7 466.2,96.7 466.2,96.7 468.4,96.7 468.4,96.7 470.6,96.7 470.6,96.7 472.8,96.7 472.8,96.7 475,96.7 475,96.7 477.2,96.7 477.2,96.7 479.4,96.7 479.4,96.7 481.6,96.7 481.6,96.7 483.8,96.7 483.8,96.7 486,96.7 486,96.7 488.2,96.7 488.2,96.7 490.4,96.7 490.4,96.7 492.6,96.7 492.6,96.7 494.8,96.7 494.8,96.7 497,96.7 497,96.7 499.2,96.7 499.2,96.7 501.4,96.7 501.4,96.7 503.6,96.7 503.6,96.7 505.8,96.7 505.8,96.7 508,96.7 508,96.7" fill="none" stroke="#9a1838" stroke-width="1.2" stroke-dasharray="3.2,2" stroke-linejoin="miter"/>
<polyline points="297.5,164.5 300,164.5 300,164 302.1,164 302.1,163 304.2,163 304.2,162 307.2,162 307.2,159.8 309.1,159.8 309.1,156.8 310.3,156.8 310.3,153.7 311.5,153.7 311.5,150.6 312.6,150.6 312.6,146.6 313.7,146.6 313.7,142.1 314.7,142.1 314.7,135.4 317.5,135.4 317.5,129.6 320.4,129.6 320.4,124.8 323.3,124.8 323.3,121 325.25,121 325.25,119.05 327.2,119.05 327.2,117.1 329.6,117.1 329.6,115.2 332,115.2 332,113.3 334.8,113.3 334.8,110.4 336.55,110.4 336.55,108.7 338.3,108.7 338.3,107 341.2,107 341.2,105.3 343.2,105.3 343.2,104.7 345.2,104.7 345.2,104.1 347.5,104.1 347.5,103.55 349.8,103.55 349.8,103 352.15,103 352.15,102.15 354.5,102.15 354.5,101.3 356.2,101.3 356.2,100.7 357.9,100.7 357.9,100.1 359.55,100.1 359.55,99.65 361.2,99.65 361.2,99.2 362,99.2 362,97.5 364.22,97.5 364.22,97.5 366.43,97.5 366.43,97.5 368.65,97.5 368.65,97.5 370.87,97.5 370.87,97.5 373.09,97.5 373.09,97.5 375.3,97.5 375.3,97.5 377.52,97.5 377.52,97.5 379.74,97.5 379.74,97.5 381.96,97.5 381.96,97.5 384.17,97.5 384.17,97.5 386.39,97.5 386.39,97.5 388.61,97.5 388.61,97.5 390.83,97.5 390.83,97.5 393.04,97.5 393.04,97.5 395.26,97.5 395.26,97.5 397.48,97.5 397.48,97.5 399.7,97.5 399.7,97.5 401.91,97.5 401.91,97.5 404.13,97.5 404.13,97.5 406.35,97.5 406.35,97.5 408.57,97.5 408.57,97.5 410.78,97.5 410.78,97.5 413,97.5 413,97.5 413,97.5 413,95 415.17,95 415.17,95.04 417.34,95.04 417.34,95.09 419.51,95.09 419.51,95.13 421.69,95.13 421.69,95.17 423.86,95.17 423.86,95.21 426.03,95.21 426.03,95.26 428.2,95.26 428.2,95.3 428.2,95.3 428.2,92.4 430.23,92.4 430.23,92.4 432.25,92.4 432.25,92.4 434.27,92.4 434.27,92.4 436.3,92.4 436.3,92.4 436.3,92.4 436.3,89.2 438.3,89.2 438.3,89.13 440.3,89.13 440.3,89.07 442.3,89.07 442.3,89 442.3,89 442.3,86 444.49,86 444.49,86 446.68,86 446.68,86 448.87,86 448.87,86 451.06,86 451.06,86 453.25,86 453.25,86 455.44,86 455.44,86 457.63,86 457.63,86 459.82,86 459.82,86 462.01,86 462.01,86 464.2,86 464.2,86 466.39,86 466.39,86 468.58,86 468.58,86 470.77,86 470.77,86 472.96,86 472.96,86 475.15,86 475.15,86 477.34,86 477.34,86 479.53,86 479.53,86 481.72,86 481.72,86 483.91,86 483.91,86 486.1,86 486.1,86 488.29,86 488.29,86 490.48,86 490.48,86 492.67,86 492.67,86 494.86,86 494.86,86 497.05,86 497.05,86 499.24,86 499.24,86 501.43,86 501.43,86 503.62,86 503.62,86 505.81,86 505.81,86 508,86 508,86" fill="none" stroke="#9a1838" stroke-width="1.2" stroke-linejoin="miter"/>
<line x1="279.8" y1="203.3" x2="293.6" y2="203.3" stroke="#9a1838" stroke-width="1.3"/>
<text x="296.9" y="205.9" font-size="7.8" textLength="187.7" lengthAdjust="spacingAndGlyphs" fill="#231f20">High/very high risk by DRI &amp; HLA-DPB1 matched (n=66)</text>
<line x1="279.8" y1="212.36" x2="293.6" y2="212.36" stroke="#9a1838" stroke-width="1.3" stroke-dasharray="3,2.3"/>
<text x="296.9" y="214.96" font-size="7.8" textLength="203.2" lengthAdjust="spacingAndGlyphs" fill="#231f20">High/very high risk by DRI &amp; HLA-DPB1 mismatched (n=255)</text>
<line x1="279.8" y1="221.42" x2="293.6" y2="221.42" stroke="#62983f" stroke-width="1.3"/>
<text x="296.9" y="224.02" font-size="7.8" textLength="185.4" lengthAdjust="spacingAndGlyphs" fill="#231f20">Intermediate risk by DRI &amp; HLA-DPB1 matched (n=112)</text>
<line x1="279.8" y1="230.48" x2="293.6" y2="230.48" stroke="#62983f" stroke-width="1.3" stroke-dasharray="3,2.3"/>
<text x="296.9" y="233.08" font-size="7.8" textLength="196.9" lengthAdjust="spacingAndGlyphs" fill="#231f20">Intermediate risk by DRI &amp; HLA-DPB1 mismatched (n=385)</text>
<line x1="279.8" y1="239.54" x2="293.6" y2="239.54" stroke="#22305e" stroke-width="1.3"/>
<text x="296.9" y="242.14" font-size="7.8" textLength="151.9" lengthAdjust="spacingAndGlyphs" fill="#231f20">Low risk by DRI &amp; HLA-DPB1 matched (n=28)</text>
<line x1="279.8" y1="248.6" x2="293.6" y2="248.6" stroke="#22305e" stroke-width="1.3" stroke-dasharray="3,2.3"/>
<text x="296.9" y="251.2" font-size="7.8" textLength="167.6" lengthAdjust="spacingAndGlyphs" fill="#231f20">Low risk by DRI &amp; HLA-DPB1 mismatched (n=114)</text>
<rect x="2" y="257" width="515" height="1" fill="#f2f2f2"/>
<rect x="2" y="2" width="1" height="255" fill="#ececec"/>
<rect x="517" y="2" width="1" height="256" fill="#e6e6e6"/>
<rect x="1" y="1" width="518" height="1" fill="#a8a8a8"/>
<rect x="1" y="1" width="1" height="258" fill="#8a8a8a"/>
<rect x="1" y="258" width="518" height="1" fill="#8a8a8a"/>
<rect x="518" y="1" width="1" height="258" fill="#4a4a4a"/>
<rect x="0" y="0" width="520" height="1" fill="#000"/>
<rect x="0" y="0" width="1" height="260" fill="#000"/>
<rect x="519" y="0" width="1" height="260" fill="#000"/>
<rect x="0" y="259" width="520" height="1" fill="#000"/>
</svg>
</body></html>
